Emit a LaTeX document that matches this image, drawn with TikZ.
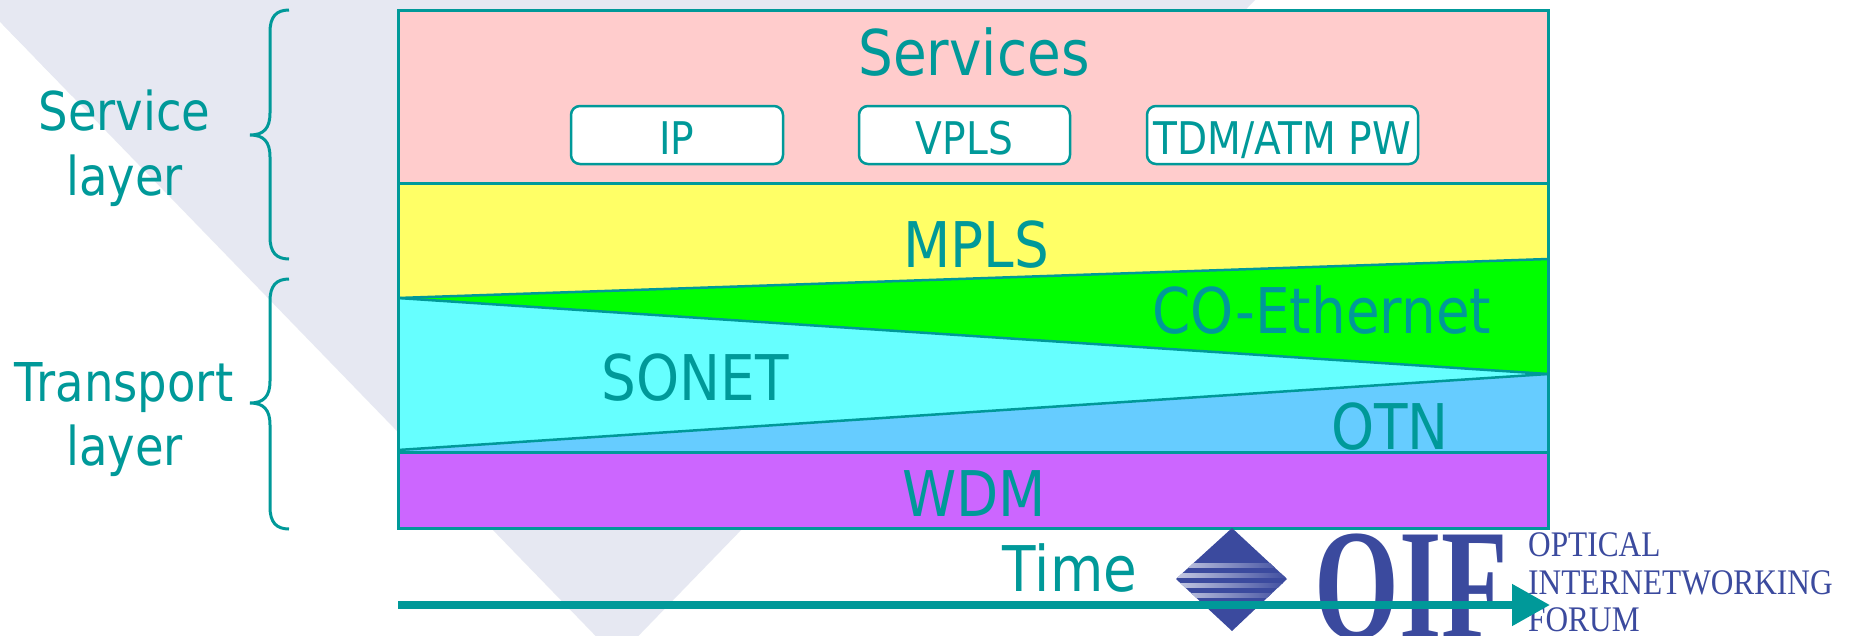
\documentclass[tikz,border=0pt]{standalone}
\usepackage{fontspec}
\setmainfont{DejaVu Sans}[FakeStretch=0.87]
\newfontfamily\oifbig{Liberation Serif}[FakeStretch=0.69]
\newfontfamily\oifsmall{Liberation Serif}[FakeStretch=0.87]
\usetikzlibrary{arrows.meta}
\definecolor{tealc}{HTML}{009999}
\definecolor{wm}{HTML}{E6E8F2}
\definecolor{pinkc}{HTML}{FFCCCC}
\definecolor{yellowc}{HTML}{FFFF66}
\definecolor{greenc}{HTML}{00FF00}
\definecolor{cyanc}{HTML}{66FFFF}
\definecolor{otnc}{HTML}{66CCFF}
\definecolor{purplec}{HTML}{CC66FF}
\definecolor{oifblue}{HTML}{3B4A9E}
\begin{document}
\begin{tikzpicture}[x=1pt,y=-1pt,
  txt/.style={text=tealc, inner sep=0pt, anchor=base},
  bigtxt/.style={txt, font=\fontsize{63}{70}\selectfont},
  sidetxt/.style={txt, font=\fontsize{53.5}{60}\selectfont},
  svcbox/.style={draw=tealc, fill=white, line width=2.5pt, rounded corners=9pt, minimum height=58pt, inner sep=0pt},
  boxtxt/.style={txt, font=\fontsize{45}{50}\selectfont},
  bracepath/.style={draw=tealc, line width=3pt},
  border/.style={draw=tealc, line width=2.5pt},
  logotxt/.style={text=oifblue, inner sep=0pt, anchor=base west},
]
\useasboundingbox (0,0) rectangle (1849,635);
\fill[white] (0,0) rectangle (1849,635);

% watermark (large faded diamond)
\begin{scope}
  \clip (-21,0) -- (1255,0) -- (617,658) -- cycle;
  \fill[wm] (-30,0) rectangle (1300,670);
  \shade[top color=wm, middle color=white!96!wm, bottom color=wm] (-30,12) rectangle (1300,95);
\end{scope}

% braces
\draw[bracepath] (289,10) .. controls (276,10) and (270,17) .. (270,32) -- (270,113)
  .. controls (270,128) and (264,135) .. (250,135)
  .. controls (264,135) and (270,142) .. (270,157) -- (270,237)
  .. controls (270,252) and (276,259) .. (289,259);
\draw[bracepath] (289,279) .. controls (276,279) and (270,286) .. (270,301) -- (270,381)
  .. controls (270,396) and (264,403) .. (250,403)
  .. controls (264,403) and (270,410) .. (270,425) -- (270,507)
  .. controls (270,522) and (276,529) .. (289,529);

\node[sidetxt] (svc1) at (124.5,130.5) {Service};
\node[sidetxt] (svc2) at (124.5,195) {layer};
\node[sidetxt] (trp1) at (124,401) {Transport};
\node[sidetxt] (trp2) at (124.5,465) {layer};

% layer fills
\fill[pinkc] (398,10) rectangle (1548,183);
\fill[yellowc] (398,183) -- (1548,183) -- (1548,259) -- (398,298) -- cycle;
\fill[greenc] (398,298) -- (1548,259) -- (1548,374) -- cycle;
\fill[cyanc] (398,298) -- (1548,374) -- (398,450) -- cycle;
\fill[otnc] (398,450) -- (1548,374) -- (1548,452) -- (398,452) -- cycle;
\fill[purplec] (398,452) rectangle (1548,528);

% borders
\draw[border] (398,298) -- (1548,259);
\draw[border] (398,298) -- (1548,374);
\draw[border] (398,450) -- (1548,374);
\draw[border, line width=3pt] (398,183) -- (1548,183);
\draw[border, line width=3pt] (398,452) -- (1548,452);
\draw[border, line width=3pt] (398,10) rectangle (1548,528);

% service boxes
\node[svcbox, minimum width=212pt] (ipbox) at (677,135) {};
\node[svcbox, minimum width=211pt] (vplsbox) at (964.5,135) {};
\node[svcbox, minimum width=271pt] (tdmbox) at (1282.5,135) {};
\node[boxtxt] (iptxt) at (677,154) {IP};
\node[boxtxt] (vplstxt) at (964.5,154) {VPLS};
\node[boxtxt] (tdmtxt) at (1282.5,154) {TDM/ATM PW};

% layer labels
\node[bigtxt] (services) at (974,75) {Services};
\node[bigtxt] (mpls) at (976,267) {MPLS};
\node[bigtxt] (coeth) at (1322,333) {CO-Ethernet};
\node[bigtxt] (sonet) at (695,400) {SONET};
\node[bigtxt] (otn) at (1390,449) {OTN};
\node[bigtxt] (wdm) at (974,516) {WDM};
\node[bigtxt] (time) at (1070,591) {Time};

% OIF logo
\fill[oifblue] (1176,579) -- (1232,528) -- (1287,579) -- (1232,631) -- cycle;
\begin{scope}
  \clip (1176,579) -- (1232,528) -- (1287,579) -- (1232,631) -- cycle;
  \foreach \yy in {565,575,585,595}{
    \shade[left color=white!70!oifblue, middle color=white, right color=oifblue] (1176,\yy-2) rectangle (1290,\yy+2);
  }
\end{scope}
\node[logotxt, font=\oifbig\bfseries\fontsize{158}{160}\selectfont] (oif) at (1314,638) {OIF};
\node[logotxt, font=\oifsmall\fontsize{36}{38}\selectfont] (optical) at (1528,556.5) {OPTICAL};
\node[logotxt, font=\oifsmall\fontsize{36}{38}\selectfont] (internet) at (1528,594) {INTERNETWORKING};
\node[logotxt, font=\oifsmall\fontsize{36}{38}\selectfont] (forum) at (1528,631) {FORUM};

% time arrow
\coordinate (tstart) at (398,605);
\coordinate (tend) at (1550,605);
\draw[tealc, line width=8pt, -{Triangle[length=38pt,width=40pt]}] (tstart) -- (tend);
\end{tikzpicture}
\end{document}
